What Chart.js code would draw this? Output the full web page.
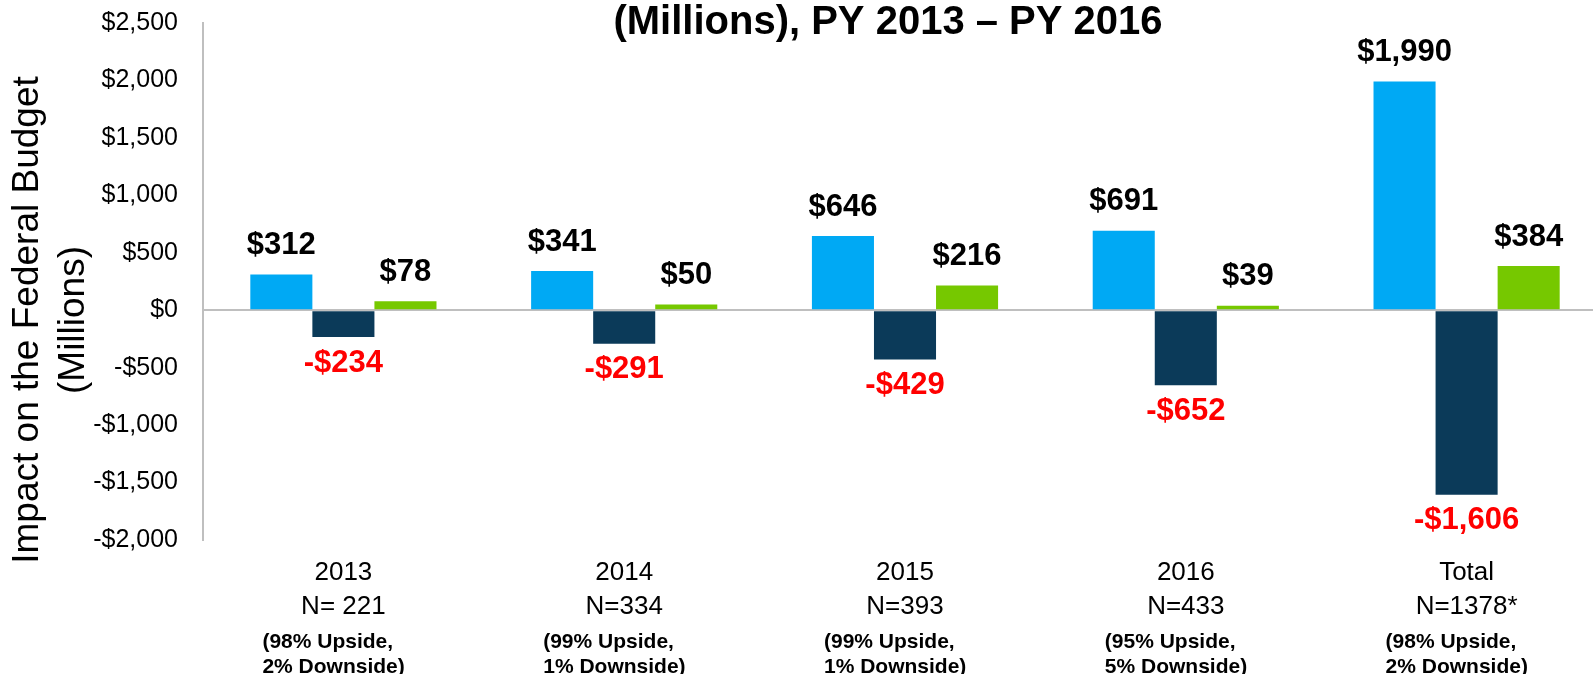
<html lang="en">
<head>
    <meta charset="UTF-8">
    <title>Impact on the Federal Budget</title>
    <script src="https://cdn.jsdelivr.net/npm/chart.js"></script>
    <style>
      body {
          background-color: #fff;
          margin: 0;
          overflow: hidden;
          width: 1593px;
          height: 674px;
      }
      canvas {
          display: block;
      }
    </style>
</head>
<body>
    <canvas id="budgetChart" width="1607" height="674"></canvas>
    <script>
        // data
        const categories = ['2013', '2014', '2015', '2016', 'Total'];
        const sampleSizes = ['N= 221', 'N=334', 'N=393', 'N=433', 'N=1378*'];
        const upsideShare = ['(98% Upside,', '(99% Upside,', '(99% Upside,', '(95% Upside,', '(98% Upside,'];
        const downsideShare = ['2% Downside)', '1% Downside)', '1% Downside)', '5% Downside)', '2% Downside)'];
        const upsideValues = [312, 341, 646, 691, 1990];
        const downsideValues = [-234, -291, -429, -652, -1606];
        const netValues = [78, 50, 216, 39, 384];
        const yTicks = [-2000, -1500, -1000, -500, 0, 500, 1000, 1500, 2000, 2500];

        const FONT = "'Liberation Sans', Arial, sans-serif";

        function money(v) {
            const s = '$' + Math.abs(v).toLocaleString('en-US');
            return v < 0 ? '-' + s : s;
        }

        const textPlugin = {
            id: 'texts',
            afterDraw(chart) {
                const ctx = chart.ctx;
                const xScale = chart.scales.x;
                ctx.save();

                // value labels above / below the bars
                ctx.textAlign = 'center';
                ctx.textBaseline = 'middle';
                ctx.font = 'bold 31px ' + FONT;
                chart.data.datasets.forEach((ds, i) => {
                    chart.getDatasetMeta(i).data.forEach((bar, j) => {
                        const v = ds.data[j];
                        ctx.fillStyle = v < 0 ? '#ff0000' : '#000';
                        ctx.fillText(money(v), bar.x, v < 0 ? bar.y + 26 : bar.y - 29);
                    });
                });

                // category labels under the plot
                categories.forEach((c, j) => {
                    const cx = xScale.getPixelForValue(j);
                    ctx.fillStyle = '#000';
                    ctx.textAlign = 'center';
                    ctx.font = '26px ' + FONT;
                    ctx.fillText(c, cx, 573);
                    ctx.fillText(sampleSizes[j], cx, 607);
                    ctx.textAlign = 'left';
                    ctx.font = 'bold 21px ' + FONT;
                    ctx.fillText(upsideShare[j], cx - 81, 642);
                    ctx.fillText(downsideShare[j], cx - 81, 667);
                });

                // title (second line only, the first is off the top)
                ctx.textAlign = 'center';
                ctx.textBaseline = 'alphabetic';
                ctx.font = 'bold 40px ' + FONT;
                ctx.fillText('(Millions), PY 2013 \u2013 PY 2016', 888, 34);

                // y axis title
                ctx.translate(0, 320);
                ctx.rotate(-Math.PI / 2);
                ctx.font = '37px ' + FONT;
                ctx.fillText('Impact on the Federal Budget', 0, 38);
                ctx.fillText('(Millions)', 0, 84);
                ctx.restore();
            }
        };

        const chart = new Chart(document.getElementById('budgetChart'), {
            type: 'bar',
            data: {
                labels: categories,
                datasets: [{
                    label: 'Upside',
                    data: upsideValues,
                    backgroundColor: '#00a9f4'
                }, {
                    label: 'Downside',
                    data: downsideValues,
                    backgroundColor: '#0b3a59'
                }, {
                    label: 'Net',
                    data: netValues,
                    backgroundColor: '#76c800'
                }]
            },
            options: {
                responsive: false,
                animation: false,
                layout: { padding: { left: 0, top: 23, right: 0, bottom: 134 } },
                datasets: { bar: { categoryPercentage: 0.663, barPercentage: 1.0 } },
                plugins: {
                    legend: { display: false },
                    tooltip: { enabled: false }
                },
                scales: {
                    x: { display: false },
                    y: {
                        min: yTicks[0],
                        max: yTicks[yTicks.length - 1],
                        afterBuildTicks: scale => {
                            scale.ticks = yTicks.map(v => ({ value: v }));
                        },
                        afterFit: scale => { scale.width = 203; },
                        border: { display: true, color: '#bfbfbf', width: 2 },
                        grid: {
                            drawTicks: true,
                            tickLength: 25,
                            tickColor: 'rgba(0,0,0,0)',
                            lineWidth: 2,
                            color: c => c.tick && c.tick.value === 0 ? '#bfbfbf' : 'rgba(0,0,0,0)'
                        },
                        ticks: {
                            padding: 0,
                            color: '#000',
                            font: { family: FONT, size: 25 },
                            callback: v => money(v)
                        }
                    }
                }
            },
            plugins: [textPlugin]
        });
    </script>
</body>
</html>
